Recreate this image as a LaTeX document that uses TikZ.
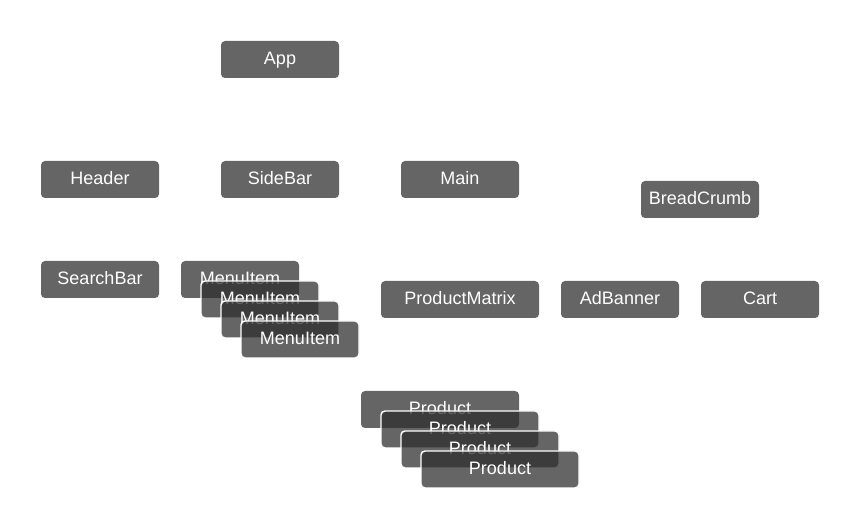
\documentclass[tikz,border=0pt]{standalone}
\usepackage{fontspec}
\setmainfont{Liberation Sans}
\usepackage{tikz}
\usetikzlibrary{positioning}

\begin{document}
\begin{tikzpicture}[
    x=0.75pt, y=-0.75pt,
    font=\fontsize{13.5}{15}\selectfont,
    comp/.style={fill={rgb,255:red,44;green,44;blue,44}, fill opacity=0.73, text opacity=1,
        text=white, rounded corners=3pt, inner sep=0pt, text height=10pt, text depth=3pt,
        minimum width=88.5pt, minimum height=27.75pt},
    wide/.style={comp, minimum width=118.5pt},
    copy/.style={draw=white, line width=1.1pt, draw opacity=1}
]
\useasboundingbox (0,0) rectangle (860,530);

\node[comp] (app) at (280,59.5) {App};

\node[comp] (header) at (100,179.5) {Header};
\node[comp] (sidebar) at (280,179.5) {SideBar};
\node[comp] (main) at (460,179.5) {Main};
\node[comp] (breadcrumb) at (700,199.5) {BreadCrumb};

\node[comp] (searchbar) at (100,279.5) {SearchBar};
\node[wide] (matrix) at (460,299.5) {ProductMatrix};
\node[comp] (adbanner) at (620,299.5) {AdBanner};
\node[comp] (cart) at (760,299.5) {Cart};

% repeated children
\node[comp] (menu0) at (240,279.5) {MenuItem};
\foreach \i in {1,2,3}
    \node[comp, copy] (menu\i) at (240+20*\i,279.5+20*\i) {MenuItem};

\node[wide] (product0) at (440,409.5) {Product};
\foreach \i in {1,2,3}
    \node[wide, copy] (product\i) at (440+20*\i,409.5+20*\i) {Product};

\end{tikzpicture}
\end{document}
